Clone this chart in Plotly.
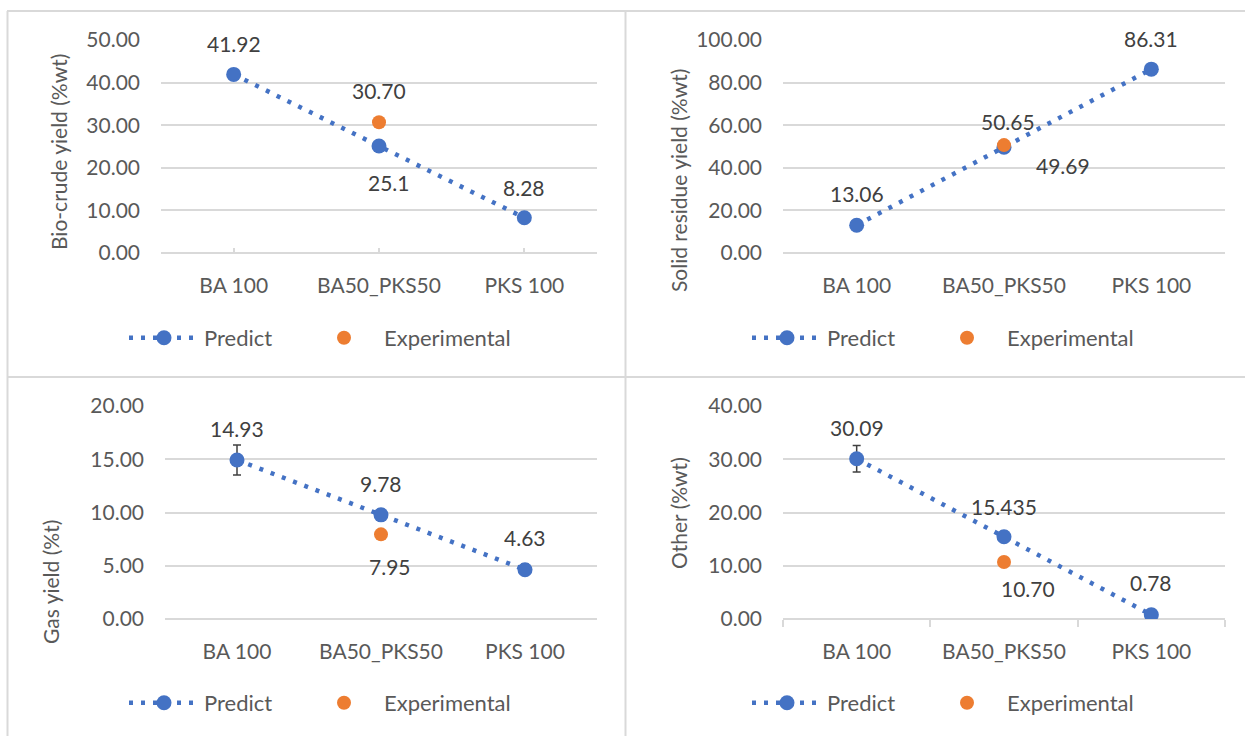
import plotly.graph_objects as go

# Blend categories
categories = ["BA 100", "BA50_PKS50", "PKS 100"]

# Label texts are the source of the plotted values, so marks and labels agree
biocrude_pred_txt = ["41.92", "25.1", "8.28"]
biocrude_exp_txt = "30.70"
solid_pred_txt = ["13.06", "49.69", "86.31"]
solid_exp_txt = "50.65"
gas_pred_txt = ["14.93", "9.78", "4.63"]
gas_exp_txt = "7.95"
other_pred_txt = ["30.09", "15.435", "0.78"]
other_exp_txt = "10.70"

biocrude_pred = [float(t) for t in biocrude_pred_txt]
biocrude_exp = float(biocrude_exp_txt)
solid_pred = [float(t) for t in solid_pred_txt]
solid_exp = float(solid_exp_txt)
gas_pred = [float(t) for t in gas_pred_txt]
gas_exp = float(gas_exp_txt)
other_pred = [float(t) for t in other_pred_txt]
other_exp = float(other_exp_txt)

# Error estimates on the predicted gas / other yields
gas_err = [1.4, 0.5, 0.5]
other_err = [2.5, 1.0, 1.0]

W, H = 1245, 736
FONT = "Lato"
GRAY = "#595959"
LABEL = "#404040"
GRID = "#D9D9D9"
BLUE = "#4472C4"
ORANGE = "#ED7D31"


def px_x(p):
    return p / W


def px_y(p):
    return 1 - p / H


fig = go.Figure()

panels = [
    dict(pred=biocrude_pred, ptxt=biocrude_pred_txt, exp=biocrude_exp, etxt=biocrude_exp_txt,
         err=None, ymax=50, dtick=10, xdom=(161, 597), ydom=(40, 253),
         title="Bio-crude yield (%wt)", tpos=(58, 152), legy=338, legx=(124, 304),
         pshift=[(0, 31), (10, -36), (0, 30)], eshift=(0, 32), ticks="tl"),
    dict(pred=solid_pred, ptxt=solid_pred_txt, exp=solid_exp, etxt=solid_exp_txt,
         err=None, ymax=100, dtick=20, xdom=(783, 1225), ydom=(40, 253),
         title="Solid residue yield (%wt)", tpos=(678, 181), legy=338, legx=(747, 927),
         pshift=[(0, 32), (59, -18), (0, 31)], eshift=(4, 24), ticks=None),
    dict(pred=gas_pred, ptxt=gas_pred_txt, exp=gas_exp, etxt=gas_exp_txt,
         err=gas_err, ymax=20, dtick=5, xdom=(165, 597), ydom=(406, 619),
         title="Gas yield (%t)", tpos=(50, 582), legy=703, legx=(124, 304),
         pshift=[(0, 31), (0, 31), (0, 32)], eshift=(9, -32), ticks=None),
    dict(pred=other_pred, ptxt=other_pred_txt, exp=other_exp, etxt=other_exp_txt,
         err=other_err, ymax=40, dtick=10, xdom=(783, 1225), ydom=(406, 619),
         title="Other (%wt)", tpos=(678, 513), legy=703, legx=(747, 927),
         pshift=[(0, 31), (0, 30), (0, 32)], eshift=(24, -26), ticks="br"),
]

annotations = []
layout_items = {}

for n, p in enumerate(panels):
    i = "" if n == 0 else str(n + 1)
    xa, ya = "x" + i, "y" + i
    # one legend per entry so each key sits where it belongs under its panel
    leg_pred = "legend" + ("" if n == 0 else str(2 * n + 1))
    leg_exp = "legend" + str(2 * n + 2)

    err = None
    if p["err"] is not None:
        err = dict(type="data", array=p["err"], visible=True, color=LABEL,
                   thickness=1.5, width=4)
    fig.add_trace(go.Scatter(
        x=categories, y=p["pred"], name="Predict", mode="lines+markers",
        line=dict(color=BLUE, width=4.5, dash="4px,8px"),
        marker=dict(color=BLUE, size=15),
        error_y=err, xaxis=xa, yaxis=ya, legend=leg_pred, showlegend=True,
    ))
    fig.add_trace(go.Scatter(
        x=[categories[1]], y=[p["exp"]], name="Experimental", mode="markers",
        marker=dict(color=ORANGE, size=14),
        xaxis=xa, yaxis=ya, legend=leg_exp, showlegend=True,
    ))

    # value labels
    for c, v, t, (dx, dy) in zip(categories, p["pred"], p["ptxt"], p["pshift"]):
        annotations.append(dict(x=c, y=v, xref=xa, yref=ya, text=t, showarrow=False,
                                xshift=dx, yshift=dy, font=dict(family=FONT, size=21, color=LABEL)))
    annotations.append(dict(x=categories[1], y=p["exp"], xref=xa, yref=ya, text=p["etxt"],
                            showarrow=False, xshift=p["eshift"][0], yshift=p["eshift"][1],
                            font=dict(family=FONT, size=21, color=LABEL)))
    # y axis title
    annotations.append(dict(x=px_x(p["tpos"][0]), y=px_y(p["tpos"][1]), xref="paper", yref="paper",
                            text=p["title"], textangle=-90, showarrow=False,
                            xanchor="center", yanchor="middle",
                            font=dict(family=FONT, size=21, color=GRAY)))

    xaxis = dict(domain=[px_x(p["xdom"][0]), px_x(p["xdom"][1])], anchor=ya,
                 type="category", range=[-0.5, 2.5], showgrid=False, zeroline=False,
                 showline=False, tickfont=dict(family=FONT, size=21, color=GRAY),
                 ticklabelstandoff=18)
    if p["ticks"] == "tl":
        xaxis.update(ticks="inside", ticklen=5, tickcolor=GRID, tickwidth=1.5)
    elif p["ticks"] == "br":
        xaxis.update(ticks="outside", ticklen=7, tickcolor=GRID, tickwidth=1.5,
                     tickson="boundaries")
    yaxis = dict(domain=[px_y(p["ydom"][1]), px_y(p["ydom"][0])], anchor=xa,
                 range=[0, p["ymax"]], dtick=p["dtick"], tick0=0, tickformat=".2f",
                 showgrid=True, gridcolor=GRID, gridwidth=1.5, zeroline=True,
                 zerolinecolor=GRID, zerolinewidth=1.5, showline=False,
                 tickfont=dict(family=FONT, size=21, color=GRAY), ticklabelstandoff=20)
    layout_items["xaxis" + i] = xaxis
    layout_items["yaxis" + i] = yaxis
    for leg, lx in ((leg_pred, p["legx"][0]), (leg_exp, p["legx"][1])):
        layout_items[leg] = dict(orientation="h", x=px_x(lx), y=px_y(p["legy"]),
                                 xanchor="left", yanchor="middle", itemwidth=70,
                                 font=dict(family=FONT, size=22, color=GRAY),
                                 bgcolor="rgba(0,0,0,0)", itemsizing="trace")

# panel frames
frame = dict(type="line", xref="paper", yref="paper", line=dict(color=GRID, width=2))
shapes = [
    dict(frame, x0=px_x(7), x1=1, y0=px_y(11), y1=px_y(11)),
    dict(frame, x0=px_x(7.5), x1=px_x(7.5), y0=px_y(11), y1=0),
    dict(frame, x0=px_x(625.5), x1=px_x(625.5), y0=px_y(11), y1=0),
    dict(frame, x0=px_x(7), x1=1, y0=px_y(377), y1=px_y(377)),
]

fig.update_layout(
    width=W, height=H, autosize=False, showlegend=True,
    margin=dict(l=0, r=0, t=0, b=0, autoexpand=False),
    paper_bgcolor="white", plot_bgcolor="white",
    font=dict(family=FONT, size=21, color=GRAY),
    annotations=annotations, shapes=shapes,
    **layout_items,
)

fig.write_html("out.html")
